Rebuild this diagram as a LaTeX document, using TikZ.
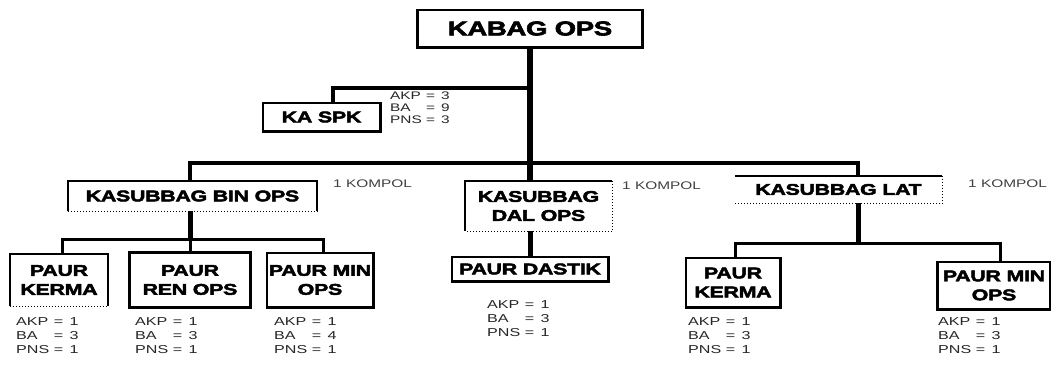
\documentclass[tikz,border=0pt]{standalone}
\usepackage{fontspec}
\newfontfamily\heavy[FakeStretch=1.38,FakeBold=3,LetterSpace=-2]{Liberation Sans Bold}
\newfontfamily\plain[FakeStretch=1.4]{Liberation Sans}
\begin{document}
\begin{tikzpicture}[x=1pt,y=-1pt,
  box/.style={inner sep=0pt, align=center, font=\heavy\fontsize{15.5}{19}\selectfont},
  frame/.style={line width=2.6pt},
  thinframe/.style={line width=2pt},
  faint/.style={line width=1pt, dotted},
  conn/.style={line width=3pt},
  trunk/.style={line width=6pt},
  stats/.style={anchor=north west, inner sep=0pt, text=black!85,
    font=\plain\fontsize{11.5}{14}\selectfont},
  rank/.style={anchor=west, inner sep=0pt, text=black!75,
    font=\plain\fontsize{11}{12}\selectfont}]
\useasboundingbox (0,0) rectangle (1051,364);

% ---- boxes
\node[box, minimum width=225pt, minimum height=37pt,
      font=\heavy\fontsize{20}{20}\selectfont] (kabag) at (530,28.5) {KABAG OPS};
\node[box, minimum width=117pt, minimum height=28pt] (kaspk) at (321.5,117) {KA SPK};
\node[box, minimum width=249pt, minimum height=30pt] (binops) at (192.5,196) {KASUBBAG BIN OPS};
\node[box, minimum width=147pt, minimum height=50pt] (dalops) at (538.5,206) {KASUBBAG\\DAL OPS};
\node[box, minimum width=207pt, minimum height=27pt] (lat) at (838.5,189.5) {KASUBBAG LAT};
\node[box, minimum width=98pt, minimum height=52pt] (kerma1) at (59,280) {PAUR\\KERMA};
\node[box, minimum width=120pt, minimum height=54pt] (renops) at (190,280) {PAUR\\REN OPS};
\node[box, minimum width=106pt, minimum height=54pt] (minops1) at (320,280) {PAUR MIN\\OPS};
\node[box, minimum width=156pt, minimum height=24pt] (dastik) at (530,269) {PAUR DASTIK};
\node[box, minimum width=94pt, minimum height=49pt] (kerma2) at (733,282.5) {PAUR\\KERMA};
\node[box, minimum width=113pt, minimum height=47pt] (minops2) at (994,285.5) {PAUR MIN\\OPS};

% ---- frames
\draw[frame] (kabag.south west) rectangle (kabag.north east);
\draw[frame] (kaspk.south west) rectangle (kaspk.north east);
\draw[line width=3.2pt] (renops.south west) rectangle (renops.north east);
\draw[frame] (minops1.south west) rectangle (minops1.north east);
\draw[frame] (dastik.south west) rectangle (dastik.north east);
\draw[frame] (kerma2.south west) rectangle (kerma2.north east);
\draw[frame] (minops2.south west) rectangle (minops2.north east);
% open frames with broken edges
\draw[thinframe] (binops.south west) -- (binops.north west) -- (binops.north east) -- (binops.south east);
\draw[faint] (binops.south west) -- (binops.south east);
\draw[thinframe] (dalops.south west) -- (dalops.north west) -- (dalops.north east);
\draw[faint] (dalops.north east) -- (dalops.south east) -- (dalops.south west);
\draw[thinframe] (lat.north west) -- (lat.north east);
\draw[faint] (lat.north east) -- (lat.south east) -- (lat.south west);
\draw[thinframe] (kerma1.south west) -- (kerma1.north west) -- (kerma1.north east) -- (kerma1.south east);
\draw[faint] (kerma1.south west) -- (kerma1.south east);

% ---- connectors
\coordinate (spkjoin) at (530,88);
\coordinate (bus) at (530,163);
\coordinate (binbus) at (190,239);
\coordinate (latbus) at (858,243);
\draw[trunk] (kabag.south) -- (kabag.south |- dalops.north);
\draw[line width=4pt] (spkjoin) -| ([xshift=11pt]kaspk.north);
\draw[line width=4pt] (binbus |- binops.north) |- (bus) -| ([xshift=19.5pt]lat.north);
% BIN OPS branch
\draw[line width=5pt] (binbus |- binops.south) -- (binbus);
\draw[conn] ([xshift=3pt]kerma1.north) |- (binbus) -| ([xshift=3pt]minops1.north);
\draw[conn] (binbus) -- (renops.north);
% DAL OPS branch
\draw[line width=5pt] (dastik.north |- dalops.south) -- (dastik.north);
% LAT branch
\draw[line width=5pt] ([xshift=19.5pt]lat.south) -- (latbus);
\draw[conn] ([xshift=2pt]kerma2.north) |- (latbus) -| ([xshift=6pt]minops2.north);

% ---- ranks
\node[rank] (r1) at (333,184) {1 KOMPOL};
\node[rank] (r2) at (622,186) {1 KOMPOL};
\node[rank] (r3) at (968,184) {1 KOMPOL};

% ---- personnel counts
\node[stats, font=\plain\fontsize{11}{12}\selectfont] (s0) at (390,91)
  {\begin{tabular}{@{}l@{\ }l@{}}AKP&= \,3\\BA&= \,9\\PNS&= \,3\end{tabular}};
\node[stats] (s1) at (16,315) {\begin{tabular}{@{}l@{\ }l@{}}AKP&= \,1\\BA&= \,3\\PNS&= \,1\end{tabular}};
\node[stats] (s2) at (135,315) {\begin{tabular}{@{}l@{\ }l@{}}AKP&= \,1\\BA&= \,3\\PNS&= \,1\end{tabular}};
\node[stats] (s3) at (274,315) {\begin{tabular}{@{}l@{\ }l@{}}AKP&= \,1\\BA&= \,4\\PNS&= \,1\end{tabular}};
\node[stats] (s4) at (487,298) {\begin{tabular}{@{}l@{\ }l@{}}AKP&= \,1\\BA&= \,3\\PNS&= \,1\end{tabular}};
\node[stats] (s5) at (688,315) {\begin{tabular}{@{}l@{\ }l@{}}AKP&= \,1\\BA&= \,3\\PNS&= \,1\end{tabular}};
\node[stats] (s6) at (938,315) {\begin{tabular}{@{}l@{\ }l@{}}AKP&= \,1\\BA&= \,3\\PNS&= \,1\end{tabular}};
\end{tikzpicture}
\end{document}
